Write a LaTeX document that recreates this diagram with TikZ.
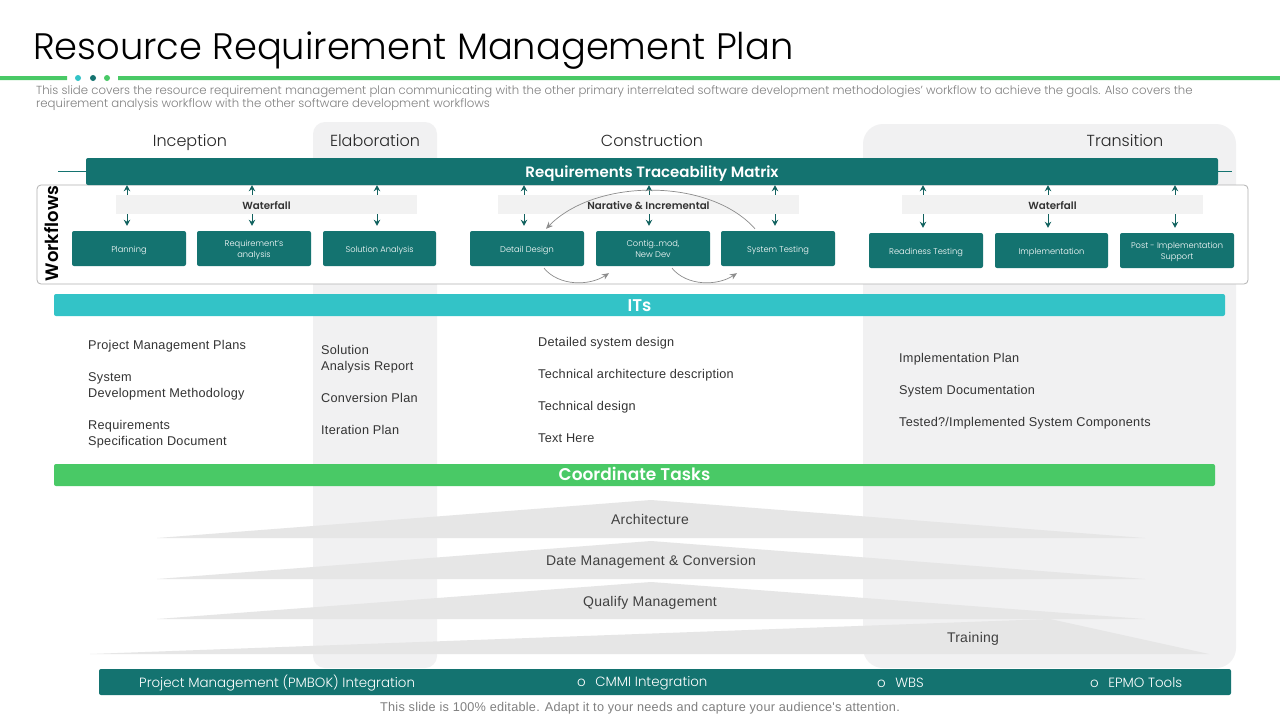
\documentclass[tikz,border=0pt]{standalone}
\usepackage{fontspec}
\usetikzlibrary{arrows.meta}
\setmainfont{Poppins Light}[BoldFont=Poppins SemiBold]
\newfontfamily\arialfont{Liberation Sans}[LetterSpace=2]
\definecolor{tealbar}{HTML}{147370}
\definecolor{cyanbar}{HTML}{33C3C7}
\definecolor{greenbar}{HTML}{49C966}
\definecolor{colgray}{HTML}{F1F1F2}
\definecolor{stripgray}{HTML}{F2F2F2}
\definecolor{wedgegray}{HTML}{E6E6E6}
\begin{document}
\begin{tikzpicture}[x=1pt,y=-1pt,
    phase/.style={anchor=base,font=\fontsize{16}{18}\selectfont,text=black!85,inner sep=0},
    bar/.style={rounded corners=2pt,inner sep=0,text=white,text depth=0pt,font=\fontsize{17}{18}\bfseries\selectfont},
    strip/.style={fill=stripgray,minimum width=301pt,minimum height=19pt,inner sep=0,text height=9.5pt,text depth=0pt,text=black!80,font=\fontsize{10.3}{12}\bfseries\selectfont},
    stepbox/.style={fill=tealbar,rounded corners=2pt,minimum width=114pt,minimum height=35pt,inner sep=0,text height=7pt,text depth=0pt,text=white,align=center,font=\fontsize{8.3}{11}\selectfont},
    twoline/.style={text height=17pt,text depth=0pt},
    linkarrow/.style={draw=tealbar!85!black,line width=1pt,-{Stealth[length=6pt,width=6.5pt]}},
    curvearrow/.style={draw=black!45,line width=0.7pt,-{Stealth[length=7pt,width=6pt]}},
    listing/.style={anchor=north west,inner sep=0,align=left,text=black!80,font=\arialfont\fontsize{12.7}{16}\selectfont},
    wedge/.style={fill=wedgegray},
    wedgetext/.style={anchor=base,inner sep=0,text=black!75,font=\arialfont\fontsize{14}{16}\selectfont},
    footitem/.style={anchor=west,inner sep=0,text=white,font=\fontsize{13.4}{15}\selectfont}]
    \useasboundingbox (0,0) rectangle (1280,720);
    \fill[white] (0,0) rectangle (1280,720);
    \fill[colgray,rounded corners=12pt] (313,122) rectangle (437,668);
    \fill[colgray,rounded corners=20pt] (863,124) rectangle (1236,668);
    \node[anchor=west,inner sep=0,font=\fontsize{36.85}{40}\selectfont] (title) at (33,51) {Resource Requirement Management Plan};
    \fill[greenbar] (0,76) rectangle (67,80) (118,76) rectangle (1280,80);
    \fill[cyanbar] (78,78) circle (3);
    \fill[tealbar] (93,78) circle (3);
    \fill[greenbar] (107,78) circle (3);
    \node[anchor=north west,inner sep=0,align=left,text=black!50,font=\fontsize{11.73}{13}\selectfont] (intro) at (36,85) {This slide covers the resource requirement management plan communicating with the other primary interrelated software development methodologies' workflow to achieve the goals. Also covers the\\requirement analysis workflow with the other software development workflows};
    \node[phase] (inception) at (190,146) {Inception};
    \node[phase] (elaboration) at (375,146) {Elaboration};
    \node[phase] (construction) at (652,146) {Construction};
    \node[phase] (transition) at (1125,146) {Transition};
    \draw[tealbar,line width=0.8pt] (58,171) -- (1232,171);
    \draw[black!30,line width=0.8pt,fill=white,rounded corners=4pt] (37,185) rectangle (1248,284);
    \node[bar,fill=tealbar,minimum width=1132pt,minimum height=27pt,text height=11pt,font=\fontsize{15}{18}\bfseries\selectfont] (rtm) at (652,171.5) {Requirements Traceability Matrix};
    \node[inner sep=0,rotate=90,font=\fontsize{18}{21}\bfseries\selectfont] (workflows) at (52,233.5) {Workflows};
    \node[strip] (wfa) at (266.5,204.5) {Waterfall};
    \node[strip] (wfb) at (648.5,204.5) {Narative \& Incremental};
    \node[strip] (wfc) at (1052.5,204.5) {Waterfall};
    \node[stepbox] (planning) at (129,248.5) {Planning};
    \node[stepbox,twoline] (reqs) at (254,248.5) {Requirement's\\analysis};
    \node[stepbox,minimum width=113pt] (solution) at (379.5,248.5) {Solution Analysis};
    \node[stepbox] (detail) at (527,248.5) {Detail Design};
    \node[stepbox,twoline] (config) at (653,248.5) {Contig...mod,\\New Dev};
    \node[stepbox] (systest) at (778,248.5) {System Testing};
    \node[stepbox] (readiness) at (926,250.5) {Readiness Testing};
    \node[stepbox,minimum width=113pt] (implement) at (1051.5,250.5) {Implementation};
    \node[stepbox,twoline] (postimp) at (1177,250.5) {Post - Implementation\\Support};
    \foreach \x/\band/\target in {127/wfa/planning,252/wfa/reqs,377/wfa/solution,524/wfb/detail,649/wfb/config,775/wfb/systest,923/wfc/readiness,1048/wfc/implement,1175/wfc/postimp} {
        \coordinate (ax) at (\x,0);
        \draw[linkarrow] (\band.north -| ax) -- (rtm.south -| ax);
        \draw[linkarrow,shorten >=5pt] (\band.south -| ax) -- (\target.north -| ax);
    }
    \draw[curvearrow] ([xshift=-23pt,yshift=2pt]systest.north) .. controls +(-45,-51) and +(50,-51) .. ([xshift=19pt,yshift=2pt]detail.north);
    \draw[curvearrow] ([xshift=17pt,yshift=-2pt]detail.south) .. controls +(15,18) and +(-20,13) .. ([xshift=-44pt,yshift=-7pt]config.south);
    \draw[curvearrow] ([xshift=19pt,yshift=-2pt]config.south) .. controls +(15,18) and +(-20,13) .. ([xshift=-41pt,yshift=-7pt]systest.south);
    \node[bar,fill=cyanbar,minimum width=1171pt,minimum height=22pt,text height=12pt] (its) at (639.5,305) {ITs};
    \node[listing] (listone) at (88,340) {Project Management Plans\\[16pt]System\\Development Methodology\\[16pt]Requirements\\Specification Document};
    \node[listing] (listtwo) at (321,345) {Solution\\Analysis Report\\[16pt]Conversion Plan\\[16pt]Iteration Plan};
    \node[listing] (listthree) at (538,337) {Detailed system design\\[16pt]Technical architecture description\\[16pt]Technical design\\[16pt]Text Here};
    \node[listing] (listfour) at (899,353) {Implementation Plan\\[16pt]System Documentation\\[16pt]Tested?/Implemented System Components};
    \node[bar,fill=greenbar,minimum width=1161pt,minimum height=22pt,text height=10pt] (tasks) at (634.5,475) {Coordinate Tasks};
    \fill[wedge] (157,538) -- (651,500) -- (1145,538) -- cycle;
    \fill[wedge] (157,579) -- (651,541) -- (1145,579) -- cycle;
    \fill[wedge] (157,619) -- (651,582) -- (1145,619) -- cycle;
    \fill[wedge] (90,654) -- (1050,619) -- (1209,654) -- cycle;
    \node[wedgetext] (arch) at (650,524) {Architecture};
    \node[wedgetext] (datamgmt) at (651,565) {Date Management \& Conversion};
    \node[wedgetext] (quality) at (650,606) {Qualify Management};
    \node[wedgetext] (training) at (973,642) {Training};
    \node[bar,fill=tealbar,minimum width=1132pt,minimum height=26pt] (footbar) at (665,682) {};
    \node[footitem] (pmbok) at (139,683) {Project Management (PMBOK) Integration};
    \node[footitem] (cmmi) at (577,683) {o\hspace{9.5pt}CMMI Integration};
    \node[footitem] (wbs) at (877,683) {o\hspace{9.5pt}WBS};
    \node[footitem] (epmo) at (1090,683) {o\hspace{9.5pt}EPMO Tools};
    \node[inner sep=0,text=black!50,font=\arialfont\fontsize{12.7}{14}\selectfont] (note) at (640,708) {This slide is 100\% editable. Adapt it to your needs and capture your audience's attention.};
\end{tikzpicture}
\end{document}
